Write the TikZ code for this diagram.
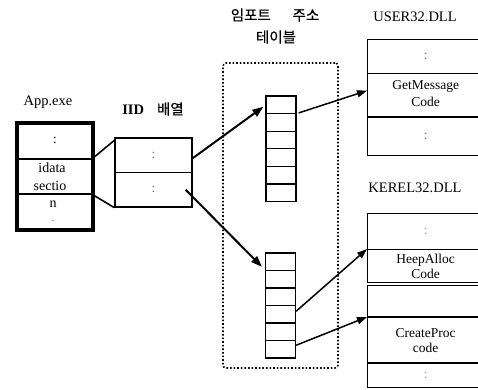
\documentclass[tikz,border=0pt]{standalone}
\usepackage{fontspec}
\setmainfont{Liberation Serif}
\newfontfamily\kr[FakeBold=0.5]{Noto Sans CJK KR}
\usetikzlibrary{arrows.meta,fit}

\tikzset{
  cell/.style={draw, line width=1.3pt, inner sep=0pt, align=center,
    font=\fontsize{13.5}{15}\selectfont},
  appcell/.style={cell, minimum width=74pt, minimum height=35pt},
  iidcell/.style={cell, minimum width=77pt, minimum height=34.5pt},
  slot/.style={draw, line width=1.3pt, inner sep=0pt,
    minimum width=30pt, minimum height=17.6pt},
  dllcell/.style={cell, anchor=north west, minimum width=116pt},
  celltext/.style={font=\fontsize{14}{15}\selectfont, inner sep=0pt},
  title/.style={font=\fontsize{14.5}{16}\selectfont, inner sep=0pt},
  ktitle/.style={font=\kr\fontsize{14.5}{16}\selectfont, inner sep=0pt},
  bigarrow/.style={line width=2pt, -{Triangle[length=11pt,width=8pt]}},
  ptrarrow/.style={line width=1.5pt, -{Triangle[length=10pt,width=7pt]}},
  link/.style={line width=1.6pt}
}

\begin{document}
\begin{tikzpicture}[x=1pt,y=-1pt]
\useasboundingbox (0,0) rectangle (478,389);

% headings
\node[title] (lapp) at (48,102) {App.exe};
\node[title] (liid) at (153,109) {\textbf{IID}\hspace{0.9em}{\kr 배열}};
\node[ktitle] (liat1) at (275,15) {임포트\hspace{1.5em}주소};
\node[ktitle] (liat2) at (276,37) {테이블};
\node[title] (luser) at (415,17) {USER32.DLL};
\node[title] (lkern) at (415,188) {KEREL32.DLL};

% App.exe image
\node[appcell] (app1) at (55,141.5) {\raisebox{2pt}{:}};
\node[appcell] (app2) at (55,176.5) {};
\node[appcell] (app3) at (55,211.5) {};
\node[celltext] (idt) at (52,168) {idata};
\node[celltext] (sec) at (50,186) {sectio};
\node[celltext] (nn) at (53,204) {n};
\node[font=\fontsize{8}{9}\selectfont, inner sep=0pt] (nd) at (53,221) {.};
\node[draw, line width=4pt, inner sep=0pt, fit=(app1)(app3)] (app) {};

% IID array
\node[iidcell] (iid1) at (153.5,155.25) {\textcolor{black!55}{:}};
\node[iidcell] (iid2) at (153.5,189.75) {\textcolor{black!55}{:}};
\draw[link] (app2.north east) -- ([yshift=-3pt]iid1.north west);
\draw[link] (app2.south east) -- (iid2.south west);

% import address table
\node[draw, dotted, line width=1.6pt, rounded corners=3pt,
      minimum width=115pt, minimum height=305pt] (iat) at (280.5,215.5) {};
\foreach \i in {1,...,6}
  \node[slot] (t\i) at (281,{96+8.8+(\i-1)*17.6}) {};
\foreach \i in {1,...,6}
  \node[slot] (b\i) at (280.5,{253+8.75+(\i-1)*17.5}) {};

\draw[bigarrow] ([yshift=-3pt]iid1.east) -- ([xshift=-2pt,yshift=-2pt]t1.west);
\draw[bigarrow] ([xshift=-7pt]iid2.east) -- ([xshift=-3pt,yshift=-5pt]b1.west);

% USER32.DLL
\node[dllcell, minimum height=34pt] (u1) at (367,39) {\textcolor{black!55}{:}};
\node[dllcell, minimum height=44pt] (u2) at (367,73) {\raisebox{4pt}{\shortstack{GetMessage\\[1pt]Code}}};
\node[dllcell, minimum height=38pt] (u3) at (367,117) {\textcolor{black!55}{:}};
\draw[line width=2.6pt] (u3.north west) -- (u3.north east);

% KEREL32.DLL
\node[dllcell, minimum height=36pt] (k1) at (367,213) {\textcolor{black!40}{:}};
\node[dllcell, minimum height=33pt] (k2) at (367,249) {\shortstack{HeepAlloc\\[0pt]Code}};
\node[dllcell, minimum height=32pt] (k3) at (367,285) {};
\node[dllcell, minimum height=46pt] (k4) at (367,317) {\shortstack{CreateProc\\[3pt]code}};
\node[dllcell, minimum height=24pt] (k5) at (367,363) {\textcolor{black!40}{:}};
\draw[line width=2.6pt] (k4.north west) -- (k4.north east);
\draw[line width=2pt] (k5.north west) -- (k5.north east);

% pointers from the table into the DLL code
\draw[ptrarrow] ([xshift=2pt]t2.north east) -- ([yshift=5pt]u2.west);
\draw[ptrarrow] ([yshift=3pt]b4.east) -- (k2.north west);
\draw[ptrarrow] ([yshift=4pt]b6.east) -- (k4.north west);
\end{tikzpicture}
\end{document}
